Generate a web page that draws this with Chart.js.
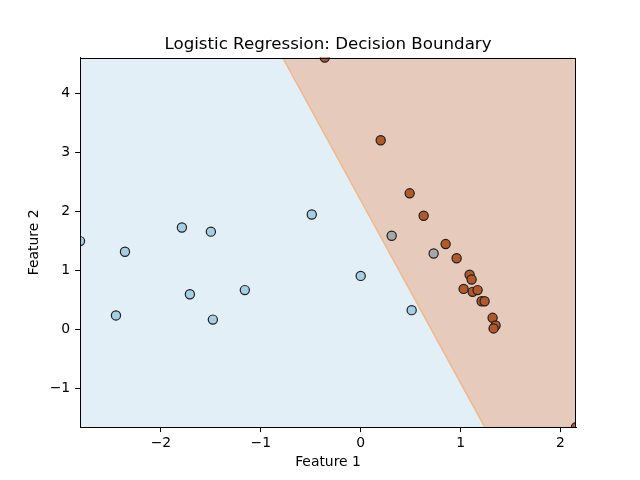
<!DOCTYPE html>
<html>
<head>
<meta charset="utf-8">
<script src="https://cdn.jsdelivr.net/npm/chart.js@4/dist/chart.umd.min.js"></script>
<style>
  html, body { margin: 0; padding: 0; background: #fff; }
  #wrap { width: 640px; height: 480px; }
</style>
</head>
<body>
<div id="wrap"><canvas id="chart" width="640" height="480"></canvas></div>
<script>
// axis ranges (data extents)
const xRange = [-2.81, 2.155];
const yRange = [-1.664, 4.6];

// class 0 points (light blue)
const blueX = [-2.81, -2.36, -2.45, -1.79, -1.50, -1.71, -1.48, -1.16, -0.49, 0.00, 0.51];
const blueY = [1.49, 1.31, 0.23, 1.72, 1.65, 0.59, 0.16, 0.66, 1.94, 0.90, 0.32];

// the two grey points
const grayX = [0.31, 0.73];
const grayY = [1.58, 1.28];

// class 1 points (brown)
const brownX = [-0.36, 0.20, 0.49, 0.63, 0.85, 0.96, 1.09, 1.11, 1.03, 1.12, 1.17, 1.21, 1.24, 1.32, 1.35, 1.33, 2.155];
const brownY = [4.60, 3.20, 2.30, 1.92, 1.44, 1.20, 0.92, 0.84, 0.68, 0.63, 0.66, 0.47, 0.47, 0.19, 0.06, 0.01, -1.664];

// decision boundary end points (top edge -> bottom edge)
const boundaryX = [-0.781, 1.242];
const boundaryY = [4.6, -1.664];

const titleText = 'Logistic Regression: Decision Boundary';
const font = 'DejaVu Sans';
const labelSize = 13.9;

function toPoints(xs, ys) {
    return xs.map((x, i) => ({ x: x, y: ys[i] }));
}

// region left of the boundary, filled down to the bottom of the axes
const blueRegion = [
    { x: xRange[0], y: yRange[1] },
    { x: boundaryX[0], y: boundaryY[0] },
    { x: boundaryX[1], y: boundaryY[1] }
];
// region right of the boundary, filled up to the top of the axes
const brownRegion = [
    { x: boundaryX[0], y: boundaryY[0] },
    { x: boundaryX[1], y: boundaryY[1] },
    { x: xRange[1], y: yRange[0] }
];

// box around the plotting area + title centred over the axes
const framePlugin = {
    id: 'frame',
    afterDraw(chart) {
        const a = chart.chartArea;
        const ctx = chart.ctx;
        ctx.save();
        ctx.strokeStyle = '#000';
        ctx.lineWidth = 1;
        ctx.strokeRect(Math.round(a.left) + 0.5, Math.round(a.top) + 0.5,
            Math.round(a.right - a.left) - 1, Math.round(a.bottom - a.top) - 1);

        ctx.fillStyle = '#000';
        ctx.font = '16.67px "' + font + '"';
        ctx.textAlign = 'center';
        ctx.textBaseline = 'alphabetic';
        ctx.fillText(titleText, (a.left + a.right) / 2, a.top - 8.3);
        ctx.restore();
    }
};

function minusTick(value) {
    return value < 0 ? '\u2212' + Math.abs(value) : String(value);
}

const pointStyle = {
    type: 'scatter',
    pointRadius: 4.6,
    pointHoverRadius: 4.6,
    borderColor: '#1e1e1e',
    borderWidth: 1.2,
    clip: 0,
    order: 1
};

new Chart(document.getElementById('chart').getContext('2d'), {
    type: 'scatter',
    data: {
        datasets: [
            {
                type: 'line',
                data: blueRegion,
                showLine: true,
                borderWidth: 0,
                borderColor: 'rgba(0,0,0,0)',
                backgroundColor: '#e3eff6',
                pointRadius: 0,
                tension: 0,
                fill: 'start',
                order: 10
            },
            {
                type: 'line',
                data: brownRegion,
                showLine: true,
                borderWidth: 1.5,
                borderColor: '#efb98e',
                backgroundColor: '#e6cbbc',
                pointRadius: 0,
                tension: 0,
                fill: 'end',
                order: 9
            },
            Object.assign({ data: toPoints(blueX, blueY), backgroundColor: '#a6cee3' }, pointStyle),
            Object.assign({ data: toPoints(grayX, grayY), backgroundColor: '#a5a8aa' }, pointStyle),
            Object.assign({ data: toPoints(brownX, brownY), backgroundColor: '#b15928' }, pointStyle)
        ]
    },
    options: {
        responsive: false,
        animation: false,
        devicePixelRatio: 1,
        layout: { padding: { top: 57.6, right: 64, bottom: 0, left: 0 } },
        plugins: {
            legend: { display: false },
            tooltip: { enabled: false },
            title: { display: false }
        },
        scales: {
            x: {
                type: 'linear',
                min: xRange[0],
                max: xRange[1],
                afterFit(scale) { scale.height = 52.8; },
                ticks: {
                    stepSize: 1,
                    includeBounds: false,
                    color: '#000',
                    padding: 3,
                    maxRotation: 0,
                    font: { family: font, size: labelSize },
                    callback: minusTick
                },
                grid: {
                    drawOnChartArea: false,
                    drawTicks: true,
                    tickLength: 4.9,
                    tickColor: '#000',
                    tickWidth: 1
                },
                border: { display: true, color: '#000', width: 1 },
                title: {
                    display: true,
                    text: 'Feature 1',
                    color: '#000',
                    font: { family: font, size: labelSize },
                    padding: { top: 0, bottom: 9 }
                }
            },
            y: {
                type: 'linear',
                min: yRange[0],
                max: yRange[1],
                afterFit(scale) { scale.width = 80; },
                ticks: {
                    stepSize: 1,
                    includeBounds: false,
                    color: '#000',
                    padding: 4.9,
                    font: { family: font, size: labelSize },
                    callback: minusTick
                },
                grid: {
                    drawOnChartArea: false,
                    drawTicks: true,
                    tickLength: 4.9,
                    tickColor: '#000',
                    tickWidth: 1
                },
                border: { display: true, color: '#000', width: 1 },
                title: {
                    display: true,
                    text: 'Feature 2',
                    color: '#000',
                    font: { family: font, size: labelSize },
                    padding: { top: 26, bottom: 0 }
                }
            }
        }
    },
    plugins: [framePlugin]
});
</script>
</body>
</html>
